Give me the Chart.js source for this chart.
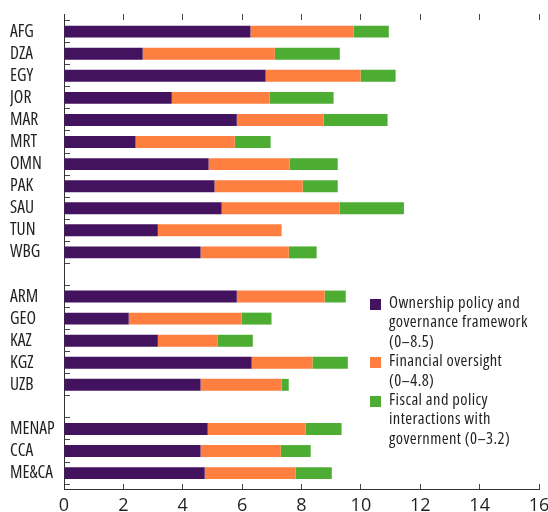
<!DOCTYPE html>
<html>
<head>
<meta charset="utf-8">
<script src="https://cdn.jsdelivr.net/npm/chart.js@4.4.1/dist/chart.umd.min.js"></script>
<style>
  body { margin: 0; background: #fff; }
  #wrap { position: relative; width: 548px; height: 512px; }
  #legend { position: absolute; left: 370px; top: 292px; font-family: "Open Sans", sans-serif; font-stretch: condensed; font-size: 16.5px; letter-spacing: 0.4px; line-height: 19.4px; color: #231f20; }
  .item { position: relative; padding-left: 19px; white-space: pre-line; }
  .box { position: absolute; left: 0; top: 7px; width: 11px; height: 11px; }
</style>
</head>
<body>
<div id="wrap">
  <canvas id="chart" width="548" height="512"></canvas>
  <div id="legend"></div>
</div>
<script>
const FAMILY = "'Open Sans', sans-serif";

// rows, with empty strings for the gaps between groups
const categories = ['AFG', 'DZA', 'EGY', 'JOR', 'MAR', 'MRT', 'OMN', 'PAK', 'SAU', 'TUN', 'WBG', '',
  'ARM', 'GEO', 'KAZ', 'KGZ', 'UZB', '', 'MENAP', 'CCA', 'ME&CA'];
const ownership = [6.28, 2.65, 6.79, 3.63, 5.82, 2.41, 4.87, 5.07, 5.31, 3.16, 4.60, null,
  5.82, 2.18, 3.16, 6.32, 4.60, null, 4.84, 4.60, 4.74];
const financial = [3.48, 4.45, 3.20, 3.30, 2.93, 3.34, 2.73, 2.97, 3.98, 4.17, 2.97, null,
  2.96, 3.80, 2.02, 2.05, 2.73, null, 3.30, 2.70, 3.06];
const fiscal = [1.18, 2.19, 1.18, 2.15, 2.15, 1.21, 1.62, 1.18, 2.16, 0, 0.94, null,
  0.71, 1.01, 1.18, 1.19, 0.24, null, 1.21, 1.01, 1.22];
const seriesLabels = ['Ownership policy and\ngovernance framework\n(0–8.5)',
  'Financial oversight\n(0–4.8)',
  'Fiscal and policy\ninteractions with\ngovernment (0–3.2)'];
const seriesColors = ['#43135f', '#ff7f41', '#4cad32'];
const xTicks = [0, 2, 4, 6, 8, 10, 12, 14, 16];

function points(values) {
  let out = [];
  for (let i = 0; i < values.length; i++) {
    if (values[i] !== null) out.push({ x: values[i], y: i });
  }
  return out;
}

const datasets = [ownership, financial, fiscal].map((vals, i) => ({
  label: seriesLabels[i],
  data: points(vals),
  backgroundColor: seriesColors[i],
  borderWidth: 0,
  barPercentage: 0.54,
  categoryPercentage: 1
}));

const chart = new Chart(document.getElementById('chart'), {
  type: 'bar',
  data: { datasets: datasets },
  options: {
    indexAxis: 'y',
    responsive: false,
    animation: false,
    layout: { padding: { left: 10, right: 9, top: 0, bottom: 0 } },
    plugins: { legend: { display: false }, tooltip: { enabled: false } },
    scales: {
      y: {
        type: 'linear',
        reverse: true,
        stacked: true,
        offset: false,
        min: -0.8,
        max: 20.72,
        afterBuildTicks: (s) => { s.ticks = categories.map((c, i) => ({ value: i })); },
        afterFit: (s) => { s.width = 54; s.paddingTop = 0; s.paddingBottom = 0; },
        ticks: {
          autoSkip: false,
          crossAlign: 'far',
          color: '#231f20',
          font: { family: FAMILY, size: 17.5, weight: 'condensed' },
          callback: (v) => categories[v]
        },
        grid: { offset: true, drawOnChartArea: false, tickLength: -6, color: '#444' },
        border: { display: true, color: '#333', width: 1 }
      },
      x: {
        type: 'linear',
        position: 'bottom',
        stacked: true,
        min: 0,
        max: 16,
        afterBuildTicks: (s) => { s.ticks = xTicks.map(v => ({ value: v })); },
        afterFit: (s) => { s.height = 23; s.paddingLeft = 0; s.paddingRight = 0; },
        ticks: { color: '#231f20', padding: 11.5, font: { family: FAMILY, size: 18 } },
        grid: { drawOnChartArea: false, tickLength: -5, color: '#444' },
        border: { display: true, color: '#333', width: 1 }
      },
      x2: {
        type: 'linear',
        position: 'top',
        min: 0,
        max: 16,
        afterBuildTicks: (s) => { s.ticks = xTicks.map(v => ({ value: v })); },
        afterFit: (s) => { s.height = 14; s.paddingLeft = 0; s.paddingRight = 0; },
        ticks: { display: false },
        grid: { drawOnChartArea: false, tickLength: -6, color: '#444' },
        border: { display: false }
      }
    }
  }
});

// legend built from the chart's datasets
const legend = document.getElementById('legend');
for (const ds of chart.data.datasets) {
  let item = document.createElement('div');
  item.className = 'item';
  let box = document.createElement('span');
  box.className = 'box';
  box.style.background = ds.backgroundColor;
  item.appendChild(box);
  item.appendChild(document.createTextNode(ds.label));
  legend.appendChild(item);
}
</script>
</body>
</html>
